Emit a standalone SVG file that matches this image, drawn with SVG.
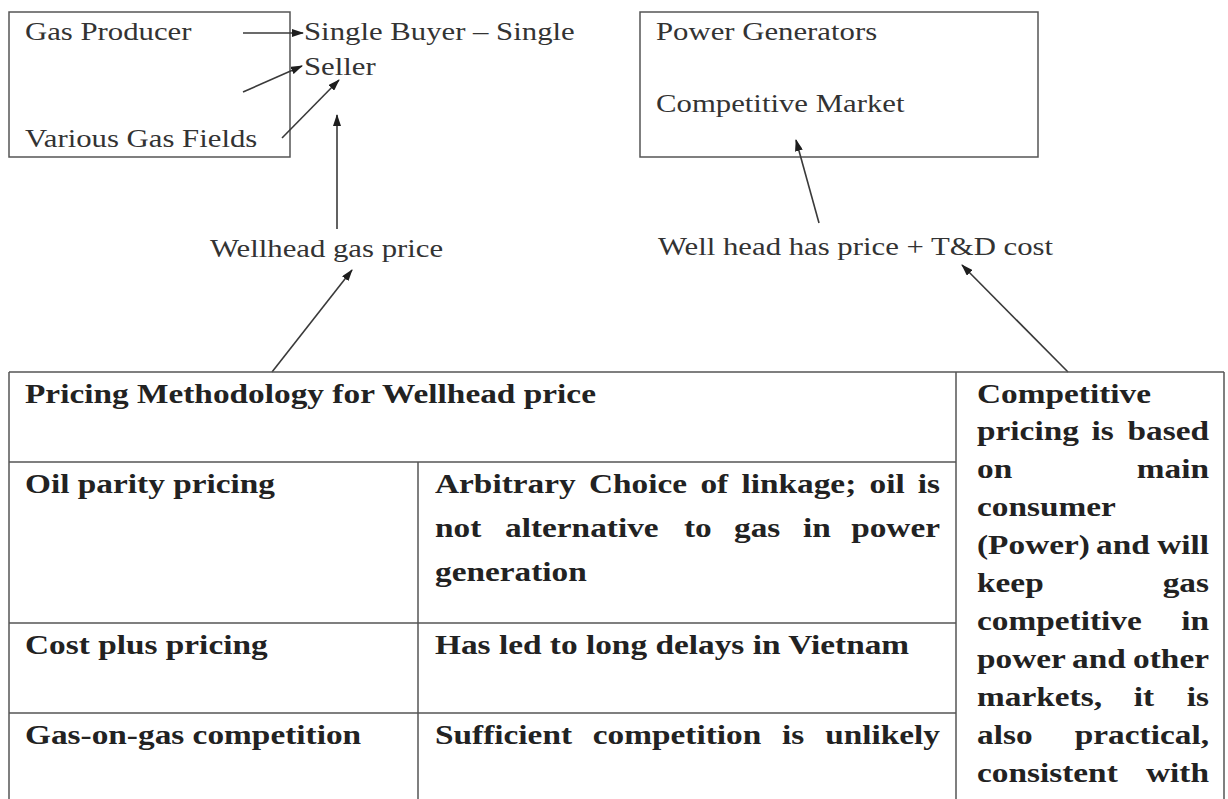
<svg xmlns="http://www.w3.org/2000/svg" width="1228" height="799" viewBox="0 0 1228 799">
<style>
.r{font-family:"Liberation Serif","Times New Roman",serif;font-size:25px;fill:#333}
.b{font-family:"Liberation Serif","Times New Roman",serif;font-size:27px;font-weight:bold;fill:#222}
.box{fill:none;stroke:#555;stroke-width:1.5}
.ln{stroke:#555;stroke-width:1.5;fill:none}
.ar{stroke:#3a3a3a;stroke-width:1.6;fill:none;marker-end:url(#ah)}
</style>
<defs>
<marker id="ah" viewBox="0 0 12 8" refX="11" refY="4" markerWidth="12" markerHeight="8" markerUnits="userSpaceOnUse" orient="auto">
<path d="M0,0 L12,4 L0,8 z" fill="#1e1e1e"/>
</marker>
</defs>
<rect width="1228" height="799" fill="#fff"/>

<g id="gas-box">
<rect class="box" x="9" y="12" width="281" height="145"/>
<text class="r" transform="matrix(1.23 0 0 1 25 40)">Gas Producer</text>
<text class="r" transform="matrix(1.23 0 0 1 25 147)">Various Gas Fields</text>
</g>

<g id="single-buyer">
<text class="r" transform="matrix(1.23 0 0 1 304 40)">Single Buyer – Single</text>
<text class="r" transform="matrix(1.23 0 0 1 304 75)">Seller</text>
</g>

<g id="power-box">
<rect class="box" x="640" y="12" width="398" height="145"/>
<text class="r" transform="matrix(1.23 0 0 1 656 40)">Power Generators</text>
<text class="r" transform="matrix(1.23 0 0 1 656 112)">Competitive Market</text>
</g>

<g id="wellhead-label">
<text class="r" transform="matrix(1.23 0 0 1 210 257)">Wellhead gas price</text>
</g>

<g id="td-label">
<text class="r" transform="matrix(1.23 0 0 1 658 255)">Well head has price + T&amp;D cost</text>
</g>

<g id="connectors">
<line class="ar" x1="243" y1="33" x2="303" y2="33"/>
<line class="ar" x1="243" y1="92" x2="302" y2="66"/>
<line class="ar" x1="282" y1="138" x2="339" y2="80"/>
<line class="ar" x1="337" y1="229" x2="337" y2="115"/>
<line class="ar" x1="272" y1="372" x2="352" y2="270"/>
<line class="ar" x1="819" y1="223" x2="796" y2="140"/>
<line class="ar" x1="1068" y1="372" x2="962" y2="265"/>
</g>

<g id="pricing-table">
<line class="ln" x1="9" y1="372" x2="1224" y2="372"/>
<line class="ln" x1="9" y1="372" x2="9" y2="799"/>
<line class="ln" x1="9" y1="462" x2="956" y2="462"/>
<line class="ln" x1="9" y1="623" x2="956" y2="623"/>
<line class="ln" x1="9" y1="713" x2="956" y2="713"/>
<line class="ln" x1="418" y1="462" x2="418" y2="799"/>
<line class="ln" x1="956" y1="372" x2="956" y2="799"/>
<line class="ln" x1="1224" y1="372" x2="1224" y2="799"/>

<text class="b" transform="matrix(1.235 0 0 1 25 403)">Pricing Methodology for Wellhead price</text>

<text class="b" transform="matrix(1.235 0 0 1 25 493)">Oil parity pricing</text>
<text class="b" transform="matrix(1.235 0 0 1 435 493)">Arbitrary</text>
<text class="b" transform="matrix(1.235 0 0 1 589 493)">Choice</text>
<text class="b" transform="matrix(1.235 0 0 1 700.4 493)">of</text>
<text class="b" transform="matrix(1.235 0 0 1 741.4 493)">linkage;</text>
<text class="b" transform="matrix(1.235 0 0 1 869.5 493)">oil</text>
<text class="b" text-anchor="end" transform="matrix(1.235 0 0 1 940 493)">is</text>

<text class="b" transform="matrix(1.235 0 0 1 435 537)">not</text>
<text class="b" transform="matrix(1.235 0 0 1 505 537)">alternative</text>
<text class="b" transform="matrix(1.235 0 0 1 684 537)">to</text>
<text class="b" transform="matrix(1.235 0 0 1 734 537)">gas</text>
<text class="b" transform="matrix(1.235 0 0 1 803 537)">in</text>
<text class="b" text-anchor="end" transform="matrix(1.235 0 0 1 940 537)">power</text>
<text class="b" transform="matrix(1.235 0 0 1 435 581)">generation</text>

<text class="b" transform="matrix(1.235 0 0 1 25 654)">Cost plus pricing</text>
<text class="b" transform="matrix(1.235 0 0 1 435 654)">Has led to long delays in Vietnam</text>

<text class="b" transform="matrix(1.235 0 0 1 25 744)">Gas-on-gas competition</text>
<text class="b" transform="matrix(1.235 0 0 1 435 744)">Sufficient</text>
<text class="b" transform="matrix(1.235 0 0 1 592.8 744)">competition</text>
<text class="b" transform="matrix(1.235 0 0 1 782.1 744)">is</text>
<text class="b" text-anchor="end" transform="matrix(1.235 0 0 1 940 744)">unlikely</text>

<text class="b" transform="matrix(1.235 0 0 1 977 403)">Competitive</text>
<text class="b" transform="matrix(1.235 0 0 1 977 440)">pricing</text>
<text class="b" transform="matrix(1.235 0 0 1 1091.6 440)">is</text>
<text class="b" text-anchor="end" transform="matrix(1.235 0 0 1 1209 440)">based</text>
<text class="b" transform="matrix(1.235 0 0 1 977 478)">on</text>
<text class="b" text-anchor="end" transform="matrix(1.235 0 0 1 1209 478)">main</text>
<text class="b" transform="matrix(1.235 0 0 1 977 516)">consumer</text>
<text class="b" transform="matrix(1.235 0 0 1 977 554)">(Power)</text>
<text class="b" transform="matrix(1.235 0 0 1 1096 554)">and</text>
<text class="b" text-anchor="end" transform="matrix(1.235 0 0 1 1209 554)">will</text>
<text class="b" transform="matrix(1.235 0 0 1 977 592)">keep</text>
<text class="b" text-anchor="end" transform="matrix(1.235 0 0 1 1209 592)">gas</text>
<text class="b" transform="matrix(1.235 0 0 1 977 630)">competitive</text>
<text class="b" text-anchor="end" transform="matrix(1.235 0 0 1 1209 630)">in</text>
<text class="b" transform="matrix(1.235 0 0 1 977 668)">power</text>
<text class="b" transform="matrix(1.235 0 0 1 1072 668)">and</text>
<text class="b" text-anchor="end" transform="matrix(1.235 0 0 1 1209 668)">other</text>
<text class="b" transform="matrix(1.235 0 0 1 977 706)">markets,</text>
<text class="b" transform="matrix(1.235 0 0 1 1133.7 706)">it</text>
<text class="b" text-anchor="end" transform="matrix(1.235 0 0 1 1209 706)">is</text>
<text class="b" transform="matrix(1.235 0 0 1 977 744)">also</text>
<text class="b" text-anchor="end" transform="matrix(1.235 0 0 1 1209 744)">practical,</text>
<text class="b" transform="matrix(1.235 0 0 1 977 782)">consistent</text>
<text class="b" text-anchor="end" transform="matrix(1.235 0 0 1 1209 782)">with</text>
</g>
</svg>
